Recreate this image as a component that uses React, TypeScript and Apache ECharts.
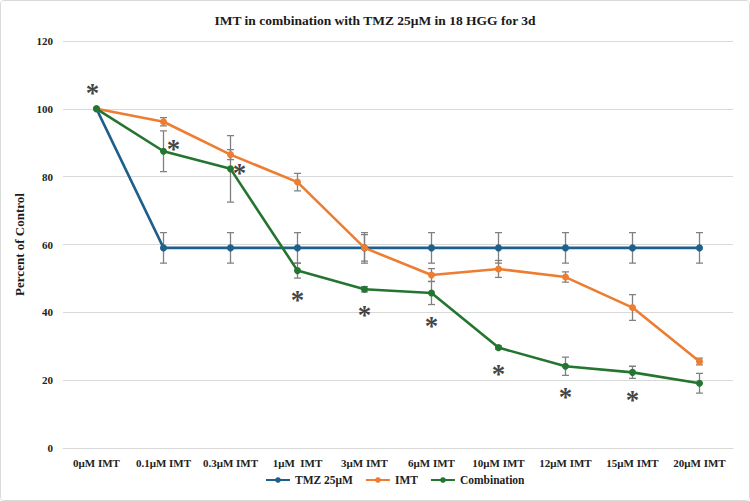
import React, { useEffect, useRef } from "react";
import * as echarts from "echarts";

const categories = ["0μM IMT", "0.1μM IMT", "0.3μM IMT", "1μM  IMT", "3μM IMT", "6μM IMT", "10μM IMT", "12μM IMT", "15μM IMT", "20μM IMT"];
const tmzValues = [100, 59, 59, 59, 59, 59, 59, 59, 59, 59];
const tmzErr = [0, 4.5, 4.5, 4.5, 4.5, 4.5, 4.5, 4.5, 4.5, 4.5];
const imtValues = [100, 96.2, 86.5, 78.4, 59, 51, 52.8, 50.4, 41.4, 25.5];
const imtErr = [0, 1.2, 1.5, 2.6, 3.9, 1.9, 2.5, 1.5, 3.8, 1];
const comboValues = [100, 87.5, 82.3, 52.3, 46.8, 45.7, 29.6, 24.1, 22.3, 19.1];
const comboErr = [0, 6, 9.8, 2.2, 0.8, 3.4, 0.5, 2.7, 1.8, 2.9];
const asteriskIdx = [0, 1, 2, 3, 4, 5, 6, 7, 8];
const asteriskY = [106.3, 90.0, 82.8, 45.4, 41.1, 37.8, 23.7, 16.9, 15.9];
const yTicks = [0, 20, 40, 60, 80, 100, 120];

const FONT = "'Liberation Serif', 'Times New Roman', serif";
const COLORS = { tmz: "#1f5f8b", imt: "#ed7d31", combo: "#23752f" };

function errData(vals: number[], errs: number[]) {
  return vals
    .map((v, i) => [i, v - errs[i], v + errs[i]])
    .filter((d, i) => errs[i] > 0);
}

function errorSeries(vals: number[], errs: number[]) {
  return {
    type: "custom",
    z: 1,
    silent: true,
    data: errData(vals, errs),
    renderItem: (params: any, api: any) => {
      const x = api.value(0);
      const lo = api.coord([x, api.value(1)]);
      const hi = api.coord([x, api.value(2)]);
      const style = { stroke: "#808080", lineWidth: 1.3 };
      const w = 3.5;
      return {
        type: "group",
        children: [
          { type: "line", shape: { x1: lo[0], y1: lo[1], x2: hi[0], y2: hi[1] }, style },
          { type: "line", shape: { x1: lo[0] - w, y1: lo[1], x2: lo[0] + w, y2: lo[1] }, style },
          { type: "line", shape: { x1: hi[0] - w, y1: hi[1], x2: hi[0] + w, y2: hi[1] }, style },
        ],
      };
    },
  };
}

function lineSeries(name: string, vals: number[], color: string, z: number) {
  return {
    name,
    type: "line",
    data: vals,
    z,
    symbol: "circle",
    symbolSize: 7,
    lineStyle: { color, width: 2.6 },
    itemStyle: { color },
  };
}

export default function App() {
  const ref = useRef<HTMLDivElement>(null);
  useEffect(() => {
    if (!ref.current) return;
    const chart = echarts.init(ref.current, null, { renderer: "svg" });
    const xShift: Record<number, number> = { 0: -4, 1: 10, 2: 9 };
    chart.setOption({
      animation: false,
      backgroundColor: "#ffffff",
      title: {
        text: "IMT in combination with TMZ 25μM in 18 HGG for 3d",
        left: "center",
        top: 7,
        textStyle: { fontFamily: FONT, fontWeight: "bold", fontSize: 13.5, color: "#1a1a1a" },
      },
      legend: {
        bottom: 9,
        left: 259,
        itemWidth: 24,
        itemHeight: 7,
        itemGap: 12,
        textStyle: { fontFamily: FONT, fontWeight: "bold", fontSize: 11.5, color: "#222" },
        data: ["TMZ 25μM", "IMT", "Combination"],
      },
      grid: { left: 62, right: 16, top: 40, bottom: 52, containLabel: false },
      xAxis: {
        type: "category",
        data: categories,
        boundaryGap: true,
        axisLine: { lineStyle: { color: "#d9d9d9" } },
        axisTick: { show: false },
        axisLabel: { fontFamily: FONT, fontWeight: "bold", fontSize: 11, color: "#222", margin: 9, interval: 0 },
      },
      yAxis: {
        type: "value",
        min: 0,
        max: 120,
        interval: 20,
        name: "Percent of Control",
        nameLocation: "middle",
        nameGap: 36,
        nameTextStyle: { fontFamily: FONT, fontWeight: "bold", fontSize: 13, color: "#1a1a1a" },
        axisLine: { show: false },
        axisTick: { show: false },
        axisLabel: {
          fontFamily: FONT,
          fontWeight: "bold",
          fontSize: 11,
          color: "#222",
          margin: 10,
          formatter: (v: number) => (yTicks.includes(v) ? String(v) : ""),
        },
        splitLine: { lineStyle: { color: "#d9d9d9", width: 1 } },
      },
      series: [
        errorSeries(tmzValues, tmzErr),
        errorSeries(imtValues, imtErr),
        errorSeries(comboValues, comboErr),
        lineSeries("TMZ 25μM", tmzValues, COLORS.tmz, 2),
        lineSeries("IMT", imtValues, COLORS.imt, 3),
        lineSeries("Combination", comboValues, COLORS.combo, 4),
        {
          type: "scatter",
          z: 5,
          silent: true,
          symbolSize: 1,
          itemStyle: { color: "rgba(0,0,0,0)" },
          data: asteriskIdx.map((idx, k) => ({
            value: [idx, asteriskY[k]],
            label: { offset: [xShift[idx] || 0, 6] },
          })),
          label: {
            show: true,
            position: "inside",
            formatter: "*",
            fontFamily: FONT,
            fontWeight: "bold",
            fontSize: 27,
            color: "#111",
          },
        },
      ],
    });
    return () => chart.dispose();
  }, []);
  return (
    <div
      style={{
        position: "fixed",
        left: 0,
        top: 0,
        width: 750,
        height: 501,
        boxSizing: "border-box",
        border: "1px solid #d9d9d9",
        borderRadius: 4,
        background: "#fff",
        overflow: "hidden",
      }}
    >
      <div ref={ref} style={{ width: 748, height: 499 }} />
    </div>
  );
}
